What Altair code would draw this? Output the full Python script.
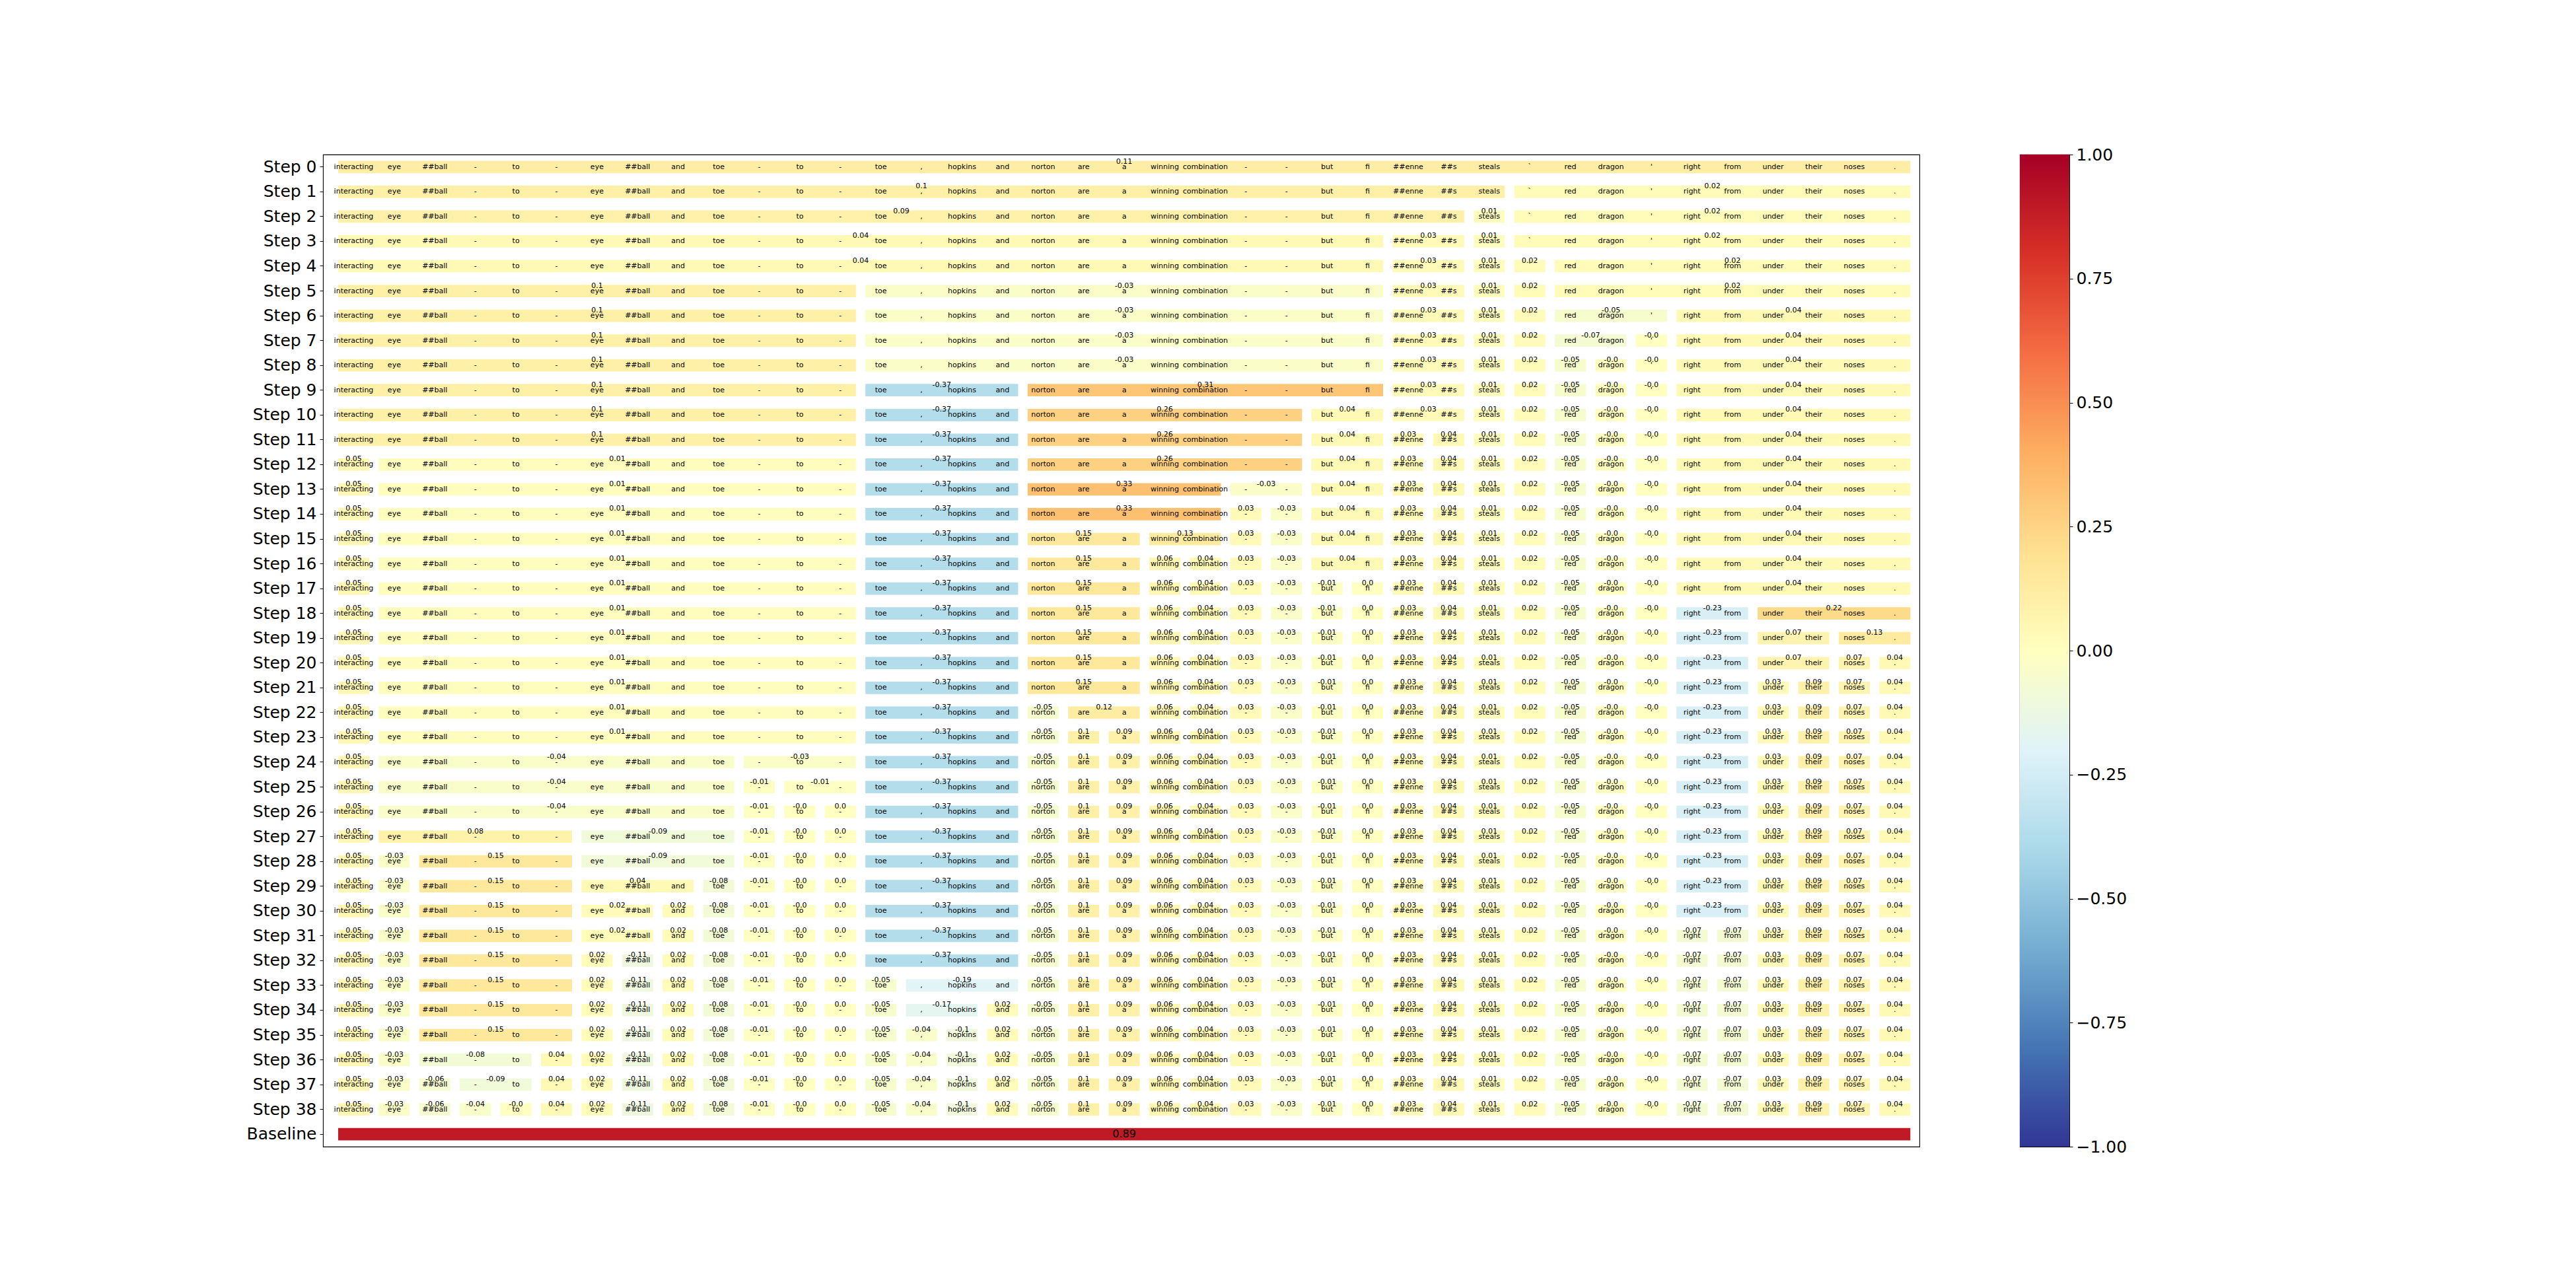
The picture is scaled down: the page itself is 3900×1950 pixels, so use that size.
import altair as alt
import pandas as pd

# ---------------- data ----------------
tokens = ["interacting", "eye", "##ball", "-", "to", "-", "eye", "##ball", "and", "toe",
          "-", "to", "-", "toe", ",", "hopkins", "and", "norton", "are", "a",
          "winning", "combination", "-", "-", "but", "fi", "##enne", "##s", "steals", "`",
          "red", "dragon", "'", "right", "from", "under", "their", "noses", "."]

step0_value = 0.11
# at step k, the segment containing token split_points[k-1] (as its non-first token)
# is split into a left part (value left_values) and a right part (value right_values)
split_points = [29, 28, 26, 30, 13, 33, 32, 31, 17, 24,
                27, 1, 22, 23, 20, 21, 25, 35, 37, 38,
                36, 18, 19, 10, 11, 12, 6, 2, 9, 8,
                34, 7, 14, 16, 15, 5, 3, 4]
left_values = [0.1, 0.09, 0.04, 0.02, 0.1, -0.05, -0.07, -0.05, -0.37, 0.26,
               0.03, 0.05, 0.33, 0.03, 0.15, 0.06, -0.01, -0.23, 0.07, 0.07,
               0.03, -0.05, 0.1, -0.04, -0.01, -0.0, 0.08, -0.03, 0.04, 0.02,
               -0.07, 0.02, -0.05, -0.17, -0.04, -0.08, -0.06, -0.04]
right_values = [0.02, 0.01, 0.03, 0.02, -0.03, 0.04, -0.0, -0.0, 0.31, 0.04,
                0.04, 0.01, -0.03, -0.03, 0.13, 0.04, 0.0, 0.22, 0.13, 0.04,
                0.09, 0.12, 0.09, -0.03, -0.01, 0.0, -0.09, 0.15, -0.08, 0.02,
                -0.07, -0.11, -0.19, 0.02, -0.1, 0.04, -0.09, -0.0]
baseline_value = 0.89
baseline_label = "Baseline"

cbar_ticks = [-1.0, -0.75, -0.5, -0.25, 0.0, 0.25, 0.5, 0.75, 1.0]

# RdYlBu_r
cmap_stops = [-1.0, -0.8, -0.6, -0.4, -0.2, 0.0, 0.2, 0.4, 0.6, 0.8, 1.0]
cmap_colors = ["#313695", "#4575b4", "#74add1", "#abd9e9", "#e0f3f8", "#ffffbf",
               "#fee090", "#fdae61", "#f46d43", "#d73027", "#a50026"]

# ---------------- style ----------------
HW = 0.383          # half width of a token cell, in token units
FONT = "DejaVu Sans"
PLOT_W, PLOT_H = 2417, 1502
CBAR_W = 75

# ---------------- tables ----------------
n_steps = len(split_points) + 1
rows = [f"Step {i}" for i in range(n_steps)] + [baseline_label]

seg_records = []
tok_records = []
segments = [(0, len(tokens) - 1, step0_value)]
for s in range(n_steps):
    if s > 0:
        p = split_points[s - 1]
        new = []
        for (a, b, v) in segments:
            if a < p <= b:
                new.append((a, p - 1, left_values[s - 1]))
                new.append((p, b, right_values[s - 1]))
            else:
                new.append((a, b, v))
        segments = new
    for (a, b, v) in segments:
        seg_records.append(dict(row=rows[s], x0=a - HW, x1=b + HW, xc=(a + b) / 2,
                                value=v, label=str(v)))
    for i, t in enumerate(tokens):
        tok_records.append(dict(row=rows[s], x=i, tok=t))

seg_df = pd.DataFrame(seg_records)
tok_df = pd.DataFrame(tok_records)
base_df = pd.DataFrame([dict(row=baseline_label, x0=-HW, x1=len(tokens) - 1 + HW,
                             xc=(len(tokens) - 1) / 2, value=baseline_value,
                             label=str(baseline_value))])

x_scale = alt.Scale(domain=[-0.757, 38.607], nice=False, zero=False)
y_scale = alt.Scale(domain=rows, paddingInner=0, paddingOuter=0)
color_scale = alt.Scale(domain=cmap_stops, range=cmap_colors, interpolate="rgb")

y_axis = alt.Axis(title=None, labelFont=FONT, labelFontSize=25, labelColor="black",
                  tickSize=5, tickColor="black", tickWidth=1, labelPadding=5,
                  domain=False, grid=False)


def yenc():
    return alt.Y("row:N", scale=y_scale, sort=rows, axis=y_axis)


bars = alt.Chart(pd.concat([seg_df, base_df])).mark_bar(height={"band": 0.5}).encode(
    x=alt.X("x0:Q", scale=x_scale, axis=None),
    x2="x1:Q",
    y=yenc(),
    color=alt.Color("value:Q", scale=color_scale, legend=None),
)

tok_text = alt.Chart(tok_df).mark_text(font=FONT, fontSize=11, color="black",
                                       align="center", baseline="middle").encode(
    x=alt.X("x:Q", scale=x_scale, axis=None),
    y=yenc(),
    text="tok:N",
)

val_text = alt.Chart(seg_df).mark_text(font=FONT, fontSize=11, color="black",
                                       align="center", baseline="middle", dy=-8).encode(
    x=alt.X("xc:Q", scale=x_scale, axis=None),
    y=yenc(),
    text="label:N",
)

base_text = alt.Chart(base_df).mark_text(font=FONT, fontSize=16, color="black",
                                         align="center", baseline="middle").encode(
    x=alt.X("xc:Q", scale=x_scale, axis=None),
    y=yenc(),
    text="label:N",
)

main = alt.layer(bars, tok_text, val_text, base_text).properties(width=PLOT_W, height=PLOT_H)

grad = alt.LinearGradient(
    gradient="linear",
    stops=[alt.GradientStop(offset=(s + 1) / 2, color=c) for s, c in zip(cmap_stops, cmap_colors)],
    x1=0, x2=0, y1=1, y2=0,
)
cbar_df = pd.DataFrame({"lo": [cbar_ticks[0]], "hi": [cbar_ticks[-1]]})
cbar = alt.Chart(cbar_df).mark_rect(color=grad).encode(
    x=alt.value(0), x2=alt.value(CBAR_W),
    y=alt.Y("lo:Q", scale=alt.Scale(domain=[-1, 1], nice=False, zero=False),
            axis=alt.Axis(orient="right", values=cbar_ticks, format=".2f", title=None,
                          labelFont=FONT, labelFontSize=25, labelColor="black",
                          tickSize=5, tickColor="black", tickWidth=1, labelPadding=5,
                          domain=False, grid=False)),
    y2="hi:Q",
).properties(width=CBAR_W, height=PLOT_H)

chart = alt.hconcat(main, cbar, spacing=152, bounds="flush").configure(
    font=FONT
).configure_view(
    stroke="black", strokeWidth=1.1
).properties(
    padding={"left": 372, "top": 221, "right": 20, "bottom": 20}
)

chart.save("out.html", embed_options={"renderer": "svg", "actions": False})
